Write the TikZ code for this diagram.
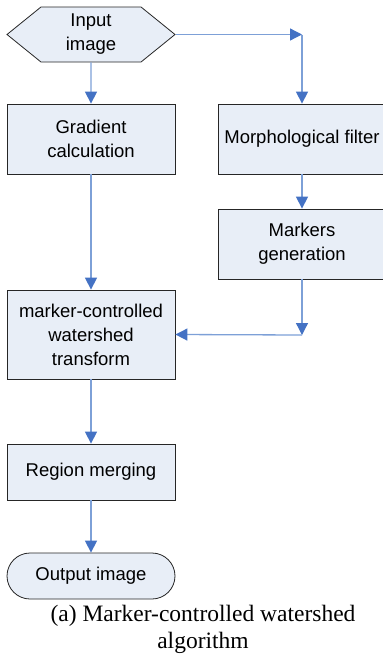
\documentclass[tikz,border=0pt]{standalone}
\usepackage{fontspec}
\setmainfont{Liberation Serif}
\setsansfont{Liberation Sans}
\usetikzlibrary{arrows.meta,shapes.symbols,shapes.misc}

\definecolor{boxfill}{RGB}{232,238,247}
\definecolor{linkblue}{RGB}{125,160,215}
\definecolor{tipblue}{RGB}{68,114,196}

\begin{document}
\begin{tikzpicture}[x=1pt,y=-1pt,
  box/.style={draw=black!85, line width=0.8pt, fill=boxfill, minimum width=168pt,
    align=center, inner sep=0pt, font=\sffamily\fontsize{18.5}{24}\selectfont},
  link/.style={draw=linkblue, line width=1.3pt,
    -{Triangle[length=12pt,width=12pt,color=tipblue]}}]

\useasboundingbox (0,0) rectangle (383,659);

\node[box, signal, signal to=east and west, signal pointer angle=78, minimum height=55pt] (in) at (91,34.5) {Input\\image};
\node[box, minimum height=70pt] (grad) at (91,139) {Gradient\\calculation};
\node[box, minimum height=70pt] (morph) at (302,139) {Morphological filter};
\node[box, minimum height=70pt] (mark) at (302,244) {Markers\\generation};
\node[box, minimum height=89pt] (ws) at (91,334.5) {marker-controlled\\watershed\\transform};
\node[box, minimum height=56pt] (merge) at (91,472) {Region merging};
\node[box, rounded rectangle, minimum height=46pt] (out) at (91,576) {Output image};

\coordinate (c1) at (302,34.5);
\coordinate (c2) at (302,335);

\draw[link] (in) -- (grad);
\draw[link] (in.east) -- (c1);
\draw[link] (c1) -- (morph);
\draw[link] (morph) -- (mark);
\draw[link] (grad) -- (ws);
\draw[link] (mark) -- (c2);
\draw[link] (c2) -- (ws.east);
\draw[link] (ws) -- (merge);
\draw[link] (merge) -- (out);

\node[font=\fontsize{23.5}{27}\selectfont, align=center] (cap) at (203,629) {(a) Marker-controlled watershed\\algorithm};

\end{tikzpicture}
\end{document}
